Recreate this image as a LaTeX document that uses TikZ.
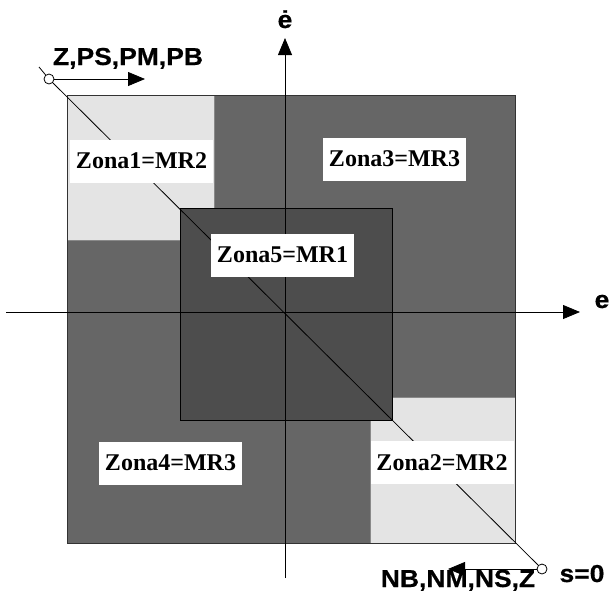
\documentclass[tikz,border=0pt]{standalone}
\usepackage{fontspec}
\setmainfont{Liberation Serif}
\newfontfamily\axfont[FakeStretch=1.08,FakeBold=0.6]{Liberation Sans}
\usetikzlibrary{arrows.meta,positioning,calc}
\definecolor{Dark}{HTML}{666666}
\definecolor{Deep}{HTML}{4D4D4D}
\definecolor{Pale}{HTML}{E4E4E4}

\begin{document}
\begin{tikzpicture}[x=1pt,y=-1pt,>={Triangle[length=17pt,width=14pt]},
  zona/.style={fill=white,minimum width=143pt,minimum height=43pt,inner sep=0pt,font=\fontsize{24}{28}\selectfont\bfseries},
  axlab/.style={inner sep=0pt,anchor=base,font=\axfont\fontsize{24.5}{28}\selectfont\bfseries},
  dot/.style={circle,draw,fill=white,minimum size=10pt,inner sep=0pt,line width=0.8pt}]
    \useasboundingbox (0,0) rectangle (611,598);
    % zones
    \fill[Dark] (67,95) rectangle (515,543);
    \draw[Pale!60!black,fill=Pale,line width=0.8pt] (67,95) rectangle (214,240);
    \draw[Pale!60!black,fill=Pale,line width=0.8pt] (370,397) rectangle (515,543);
    \draw[black!80,line width=0.9pt] (67,95) rectangle (515,543);
    \draw[black,fill=Deep,line width=0.9pt] (180,208) rectangle (392,420);
    % axes and switching line
    \coordinate (O) at (285,312);
    \coordinate (xl) at (6,312);   \coordinate (xr) at (580,312);
    \coordinate (yb) at (285,578); \coordinate (yt) at (285,38);
    \node[dot] (p) at (49,79) {};
    \node[dot] (q) at (542,569) {};
    \coordinate (d) at (39,67);
    \draw[line width=0.8pt] (d)--(p)--(q);
    \draw[->,line width=0.8pt] (xl)--(xr);
    \draw[->,line width=0.8pt] (yb)--(yt);
    \node[axlab] (e) at (602,308) {e};
    \node[axlab] (ed) at (285,28) {ė};
    % zone labels
    \node[zona] (z1) at (141.5,161) {Zona1=MR2};
    \node[zona] (z3) at (394.5,159) {Zona3=MR3};
    \node[zona] (z5) at (282.5,255) {Zona5=MR1};
    \node[zona] (z4) at (170.5,463) {Zona4=MR3};
    \node[zona] (z2) at (442,462.5) {Zona2=MR2};
    % direction labels
    \coordinate (pa) at (145,79);
    \coordinate (qa) at (448,569);
    \draw[->,line width=0.8pt] (p)--(pa);
    \draw[->,line width=0.8pt] (q)--(qa);
    \node[axlab] (pos) at (128,65) {Z,PS,PM,PB};
    \node[axlab] (neg) at (458,587) {NB,NM,NS,Z};
    \node[axlab] (s) at (582,582) {s=0};
  \end{tikzpicture}
\end{document}
